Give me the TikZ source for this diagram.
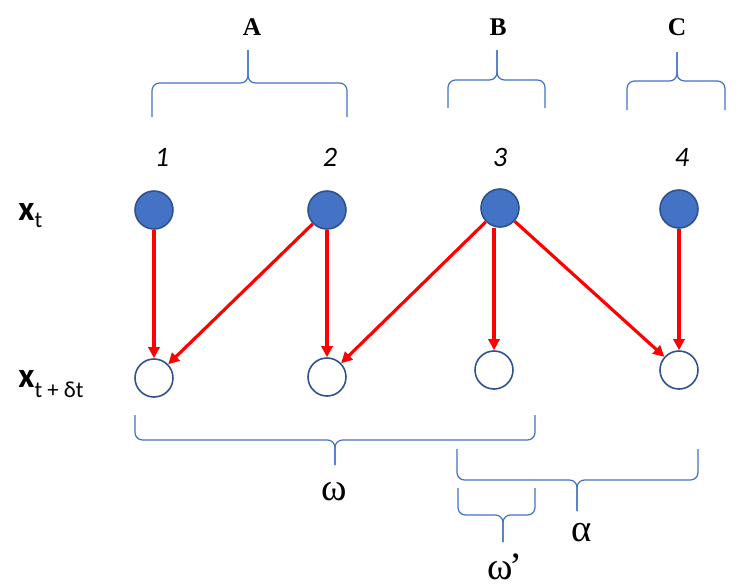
\documentclass[tikz,border=0pt]{standalone}
\usepackage{fontspec}
\setmainfont{Carlito}
\newfontfamily\serif{Liberation Serif}
\usetikzlibrary{arrows.meta}
\definecolor{nodeblue}{RGB}{68,114,196}
\definecolor{nodeedge}{RGB}{47,82,143}
\definecolor{arrowred}{RGB}{255,0,0}
\definecolor{bracecolor}{RGB}{68,114,196}

% curly group brace: left x, right x, middle x, end y, bar y, tip y
\newcommand{\grpbrace}[6]{%
  \draw[grp] (#1,#4) -- (#1,#5) -- (#3,#5) -- (#3,#6);
  \draw[grp] (#3,#6) -- (#3,#5) -- (#2,#5) -- (#2,#4);
}

\tikzset{
  state/.style={circle, draw=nodeedge, line width=0.9pt, minimum size=7.6mm, inner sep=0pt},
  filled/.style={state, fill=nodeblue},
  empty/.style={state, fill=white},
  trans/.style={draw=arrowred, line width=1.8pt, -{Triangle[length=2.2mm,width=2.2mm]}},
  grp/.style={draw=bracecolor, line width=0.7pt, rounded corners=1.5mm},
  grplabel/.style={font=\serif\bfseries\fontsize{14.5}{16}\selectfont},
  idx/.style={font=\itshape\fontsize{16}{18}\selectfont},
  greek/.style={font=\serif\fontsize{22}{24}\selectfont},
  rowlabel/.style={anchor=base west, inner sep=0pt, font=\bfseries\fontsize{20}{22}\selectfont}
}

\begin{document}
\begin{tikzpicture}[x=0.2mm, y=-0.2mm]
    \useasboundingbox (0,0) rectangle (751,586);

    % Groups
    \node[grplabel] (lblA) at (252,27) {A};
    \node[grplabel] (lblB) at (498,27) {B};
    \node[grplabel] (lblC) at (677,27) {C};
    \grpbrace{152}{347}{248}{117}{83}{50}
    \grpbrace{448}{545}{497}{108}{80}{50}
    \grpbrace{627}{725}{677}{110}{81}{52}

    % Indices
    \node[idx] (n1) at (162,157) {1};
    \node[idx] (n2) at (330,157) {2};
    \node[idx] (n3) at (500,157) {3};
    \node[idx] (n4) at (682,157) {4};

    % Rows
    \node[rowlabel] (xt) at (18,220) {x\raisebox{-4.5pt}{\mdseries\fontsize{13}{15}\selectfont t}};
    \node[rowlabel] (xtd) at (18,387) {x\raisebox{-6pt}{\mdseries\fontsize{13}{15}\selectfont t + δt}};

    \node[filled] (t1) at (154,210) {};
    \node[filled] (t2) at (327,210) {};
    \node[filled] (t3) at (500,208) {};
    \node[filled] (t4) at (679,209) {};

    \node[empty] (b1) at (154,378) {};
    \node[empty] (b2) at (327,377) {};
    \node[empty] (b3) at (494,370) {};
    \node[empty] (b4) at (679,370) {};

    % Transitions
    \draw[trans] (t1) -- (b1);
    \draw[trans] (t2) -- (b1);
    \draw[trans] (t2) -- (b2);
    \draw[trans] (t3) -- (b2);
    \draw[trans] (t3.south -| b3) -- (b3);
    \draw[trans] (t3) -- (b4);
    \draw[trans] (t4) -- (b4);

    % Lower groups
    \grpbrace{135}{535}{335}{415}{440}{465}
    \node[greek] (omega) at (334,492) {ω};
    \grpbrace{457}{698}{577}{449}{480}{511}
    \node[greek] (alpha) at (582,533) {α};
    \grpbrace{458}{535}{503}{488}{515}{542}
    \node[greek] (omegap) at (505,567) {ω\kern-1.5pt’};
\end{tikzpicture}
\end{document}
